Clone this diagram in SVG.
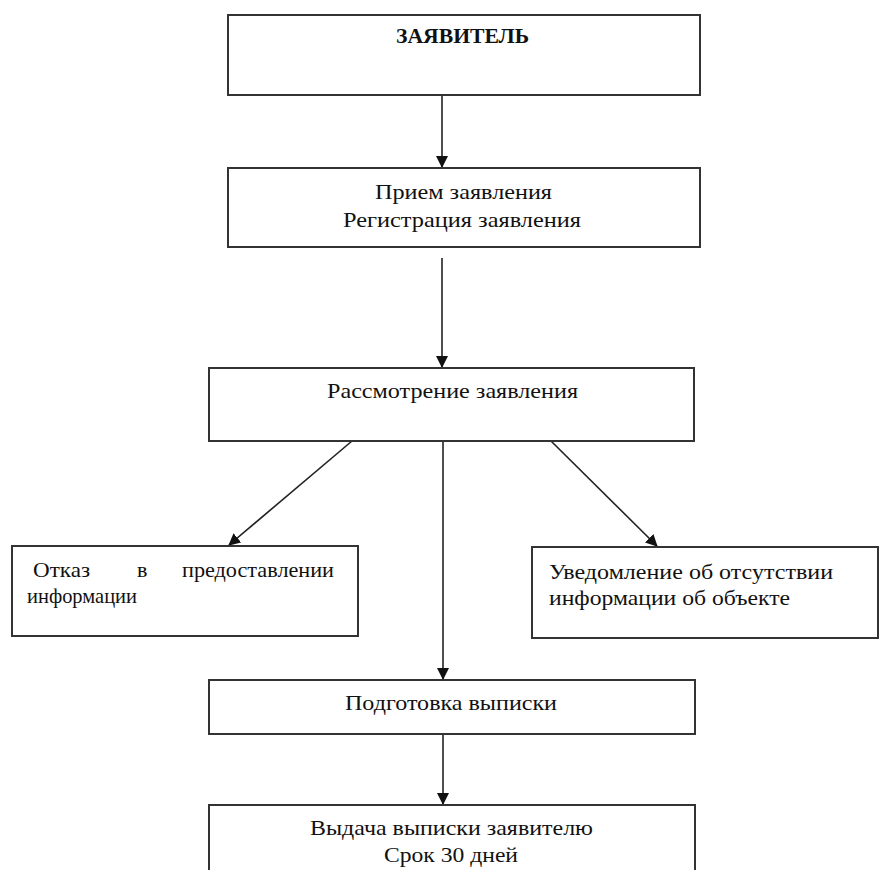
<svg xmlns="http://www.w3.org/2000/svg" width="879" height="870" viewBox="0 0 879 870">
<style>
.box{fill:#fff;stroke:#333;stroke-width:2}
.t{font-family:"Liberation Serif","Times New Roman","DejaVu Serif",serif;font-size:22px;fill:#111}
.b{font-weight:bold}
.ln{stroke:#222;stroke-width:1.6;fill:none}
</style>
<defs>
<marker id="ah" markerWidth="12" markerHeight="12" refX="11" refY="6" orient="auto" markerUnits="userSpaceOnUse">
<path d="M0,0 L12,6 L0,12 Z" fill="#111"/>
</marker>
</defs>
<rect width="879" height="870" fill="#fff"/>
<g id="connectors">
<line class="ln" x1="442" y1="95" x2="442" y2="167" marker-end="url(#ah)"/>
<line class="ln" x1="442" y1="258" x2="442" y2="367" marker-end="url(#ah)"/>
<line class="ln" x1="352" y1="441" x2="229" y2="545" marker-end="url(#ah)"/>
<line class="ln" x1="551" y1="441" x2="657" y2="546" marker-end="url(#ah)"/>
<line class="ln" x1="443" y1="441" x2="443" y2="679" marker-end="url(#ah)"/>
<line class="ln" x1="443" y1="734" x2="443" y2="804" marker-end="url(#ah)"/>
</g>
<g id="n1">
<rect class="box" x="228" y="15" width="472" height="80"/>
<text class="t b" x="396" y="43" textLength="133" lengthAdjust="spacingAndGlyphs">ЗАЯВИТЕЛЬ</text>
</g>
<g id="n2">
<rect class="box" x="228" y="168" width="472" height="79"/>
<text class="t" x="375" y="199" textLength="177" lengthAdjust="spacingAndGlyphs">Прием заявления</text>
<text class="t" x="343" y="227" textLength="238" lengthAdjust="spacingAndGlyphs">Регистрация заявления</text>
</g>
<g id="n3">
<rect class="box" x="209" y="368" width="485" height="73"/>
<text class="t" x="327" y="398" textLength="251" lengthAdjust="spacingAndGlyphs">Рассмотрение заявления</text>
</g>
<g id="n4">
<rect class="box" x="12" y="546" width="346" height="90"/>
<text class="t" x="33" y="577" textLength="57" lengthAdjust="spacingAndGlyphs">Отказ</text>
<text class="t" x="137" y="577">в</text>
<text class="t" x="182" y="577" textLength="152" lengthAdjust="spacingAndGlyphs">предоставлении</text>
<text class="t" x="27" y="603" textLength="110" lengthAdjust="spacingAndGlyphs">информации</text>
</g>
<g id="n5">
<rect class="box" x="532" y="547" width="346" height="91"/>
<text class="t" x="549" y="579" textLength="284" lengthAdjust="spacingAndGlyphs">Уведомление об отсутствии</text>
<text class="t" x="549" y="605" textLength="241" lengthAdjust="spacingAndGlyphs">информации об объекте</text>
</g>
<g id="n6">
<rect class="box" x="209" y="680" width="486" height="54"/>
<text class="t" x="345" y="710" textLength="212" lengthAdjust="spacingAndGlyphs">Подготовка выписки</text>
</g>
<g id="n7">
<rect class="box" x="209" y="805" width="486" height="80"/>
<text class="t" x="310" y="835" textLength="283" lengthAdjust="spacingAndGlyphs">Выдача выписки заявителю</text>
<text class="t" x="384" y="862" textLength="134" lengthAdjust="spacingAndGlyphs">Срок 30 дней</text>
</g>
</svg>
